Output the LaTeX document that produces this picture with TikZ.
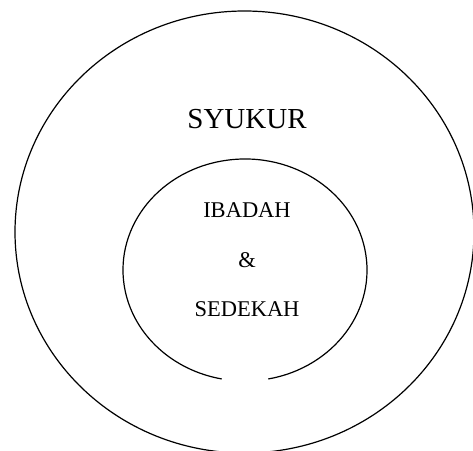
\documentclass[tikz,border=0pt]{standalone}
\usepackage{fontspec}
\setmainfont{Liberation Serif}
\usetikzlibrary{shapes.geometric}
\tikzset{
  ringbase/.style={draw=black, line width=1.2pt, ellipse, inner sep=0pt},
  ringlabel/.style={font=\fontsize{29}{34}\selectfont, anchor=base},
  coretext/.style={font=\fontsize{22.5}{27}\selectfont, anchor=base},
}
\begin{document}
\begin{tikzpicture}[x=1pt, y=1pt]
  \useasboundingbox (0,0) rectangle (473,450);

  % outer ring
  \node[ringbase, minimum width=459pt, minimum height=442pt] (syukur) at (244.5, 218) {};
  \node[ringlabel] (syukurlabel) at (247, 321) {SYUKUR};

  % inner ring, open at the bottom
  \draw[line width=1.2pt] (245,180) ++(-79:122 and 111)
    arc[start angle=-79, end angle=259, x radius=122, y radius=111];
  \node[coretext] (ibadah) at (247, 233) {IBADAH};
  \node[coretext] (dan) at (247, 183) {\&};
  \node[coretext] (sedekah) at (247, 134) {SEDEKAH};
\end{tikzpicture}
\end{document}
